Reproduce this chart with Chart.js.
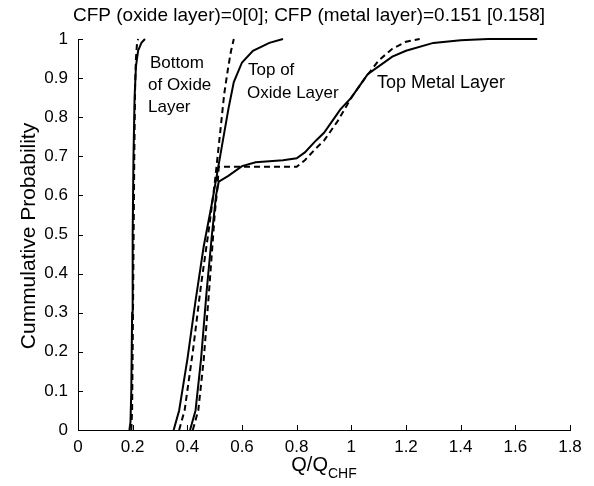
<!DOCTYPE html>
<html>
<head>
<meta charset="utf-8">
<script src="https://cdn.jsdelivr.net/npm/chart.js@4.4.0/dist/chart.umd.min.js"></script>
<style>
  html, body { margin: 0; padding: 0; background: #fff; }
  #wrap { width: 594px; height: 486px; }
</style>
</head>
<body>
<div id="wrap"><canvas id="cdf-chart" width="594" height="486"></canvas></div>
<script>
// Values: Q/QCHF (x) and cumulative probability (y)
const bottomOxideQ      = [0.188, 0.192, 0.195, 0.198, 0.200, 0.203, 0.207, 0.212, 0.220, 0.232, 0.245];
const bottomOxideP      = [0.00, 0.02, 0.10, 0.30, 0.50, 0.70, 0.85, 0.93, 0.97, 0.99, 1.00];
const bottomOxideDashQ  = [0.195, 0.198, 0.200, 0.203, 0.206, 0.209, 0.212, 0.216, 0.220];
const bottomOxideDashP  = [0.00, 0.05, 0.20, 0.45, 0.70, 0.88, 0.95, 0.99, 1.00];

const topOxideQ      = [0.35, 0.37, 0.40, 0.43, 0.46, 0.49, 0.51, 0.53, 0.55, 0.57, 0.60, 0.64, 0.70, 0.75];
const topOxideP      = [0.00, 0.05, 0.18, 0.33, 0.47, 0.58, 0.66, 0.74, 0.82, 0.89, 0.94, 0.97, 0.99, 1.00];
const topOxideDashQ  = [0.37, 0.39, 0.42, 0.45, 0.48, 0.50, 0.52, 0.535, 0.55, 0.56, 0.57];
const topOxideDashP  = [0.00, 0.05, 0.20, 0.37, 0.52, 0.63, 0.76, 0.86, 0.93, 0.97, 1.00];

const topMetalQ      = [0.41, 0.43, 0.45, 0.47, 0.49, 0.505, 0.515, 0.55, 0.60, 0.65, 0.75, 0.80, 0.83, 0.87, 0.90, 0.93, 0.96, 1.00, 1.03, 1.06, 1.10, 1.15, 1.20, 1.30, 1.40, 1.50, 1.68];
const topMetalP      = [0.00, 0.05, 0.18, 0.35, 0.50, 0.60, 0.635, 0.65, 0.675, 0.685, 0.69, 0.695, 0.71, 0.74, 0.76, 0.79, 0.82, 0.85, 0.88, 0.91, 0.93, 0.955, 0.97, 0.99, 0.997, 1.00, 1.00];
const topMetalDashQ  = [0.42, 0.44, 0.46, 0.48, 0.50, 0.51, 0.515, 0.60, 0.80, 0.83, 0.87, 0.90, 0.95, 1.00, 1.05, 1.10, 1.15, 1.20, 1.25];
const topMetalDashP  = [0.00, 0.05, 0.18, 0.36, 0.55, 0.62, 0.673, 0.673, 0.673, 0.69, 0.72, 0.74, 0.79, 0.85, 0.90, 0.945, 0.975, 0.993, 1.00];

const xTicks = [0, 0.2, 0.4, 0.6, 0.8, 1, 1.2, 1.4, 1.6, 1.8];
const yTicks = [0, 0.1, 0.2, 0.3, 0.4, 0.5, 0.6, 0.7, 0.8, 0.9, 1];

const titleText = 'CFP (oxide layer)=0[0]; CFP (metal layer)=0.151 [0.158]';
const yLabel = 'Cummulative Probability';

const FONT = '"Liberation Sans", Arial, Helvetica, sans-serif';

function toPoints(xs, ys) {
  return xs.map((x, i) => ({ x, y: ys[i] }));
}

// Matlab-style labels: 0, 0.2, 1, 1.2 ...
function tickLabel(value) {
  return String(Math.round(value * 10) / 10);
}

function curve(label, xs, ys, dashed) {
  return {
    label,
    data: toPoints(xs, ys),
    borderColor: '#000',
    borderWidth: 2,
    borderDash: dashed ? [6, 4] : [],
    pointRadius: 0,
    tension: 0,
    fill: false,
    clip: 4
  };
}

// Inward tick marks plus all free text (title, axis titles, annotations)
const decorations = {
  id: 'decorations',
  afterDraw(chart) {
    const { ctx, chartArea: area, scales } = chart;
    ctx.save();
    ctx.strokeStyle = '#000';
    ctx.lineWidth = 1;
    ctx.beginPath();
    xTicks.forEach(v => {
      const px = Math.round(scales.x.getPixelForValue(v)) + 0.5;
      ctx.moveTo(px, area.bottom);
      ctx.lineTo(px, area.bottom - 5);
    });
    yTicks.forEach(v => {
      const py = Math.round(scales.y.getPixelForValue(v)) + 0.5;
      ctx.moveTo(area.left, py);
      ctx.lineTo(area.left + 5, py);
    });
    ctx.stroke();

    ctx.fillStyle = '#000';
    ctx.textBaseline = 'middle';

    // title
    ctx.font = '19px ' + FONT;
    ctx.textAlign = 'center';
    ctx.fillText(titleText, 309, 16);

    // y axis title
    ctx.save();
    ctx.translate(29, 236);
    ctx.rotate(-Math.PI / 2);
    ctx.font = '21px ' + FONT;
    ctx.fillText(yLabel, 0, 0);
    ctx.restore();

    // x axis title with subscript
    ctx.textAlign = 'left';
    ctx.font = '20px ' + FONT;
    const main = 'Q/Q';
    const wMain = ctx.measureText(main).width;
    ctx.font = '14px ' + FONT;
    const wSub = ctx.measureText('CHF').width;
    const startX = (area.left + area.right) / 2 - (wMain + wSub) / 2;
    ctx.font = '20px ' + FONT;
    ctx.fillText(main, startX, 465);
    ctx.font = '14px ' + FONT;
    ctx.fillText('CHF', startX + wMain, 474);

    // curve annotations
    ctx.font = '17px ' + FONT;
    ctx.fillText('Bottom', 150, 63);
    ctx.fillText('of Oxide', 148, 85);
    ctx.fillText('Layer', 148, 107);
    ctx.fillText('Top of', 248, 70);
    ctx.fillText('Oxide Layer', 247, 93);
    ctx.font = '18px ' + FONT;
    ctx.fillText('Top Metal Layer', 377, 83);
    ctx.restore();
  }
};

new Chart(document.getElementById('cdf-chart').getContext('2d'), {
  type: 'line',
  data: {
    datasets: [
      curve('Bottom of Oxide Layer', bottomOxideQ, bottomOxideP, false),
      curve('Bottom of Oxide Layer (dashed)', bottomOxideDashQ, bottomOxideDashP, true),
      curve('Top of Oxide Layer', topOxideQ, topOxideP, false),
      curve('Top of Oxide Layer (dashed)', topOxideDashQ, topOxideDashP, true),
      curve('Top Metal Layer', topMetalQ, topMetalP, false),
      curve('Top Metal Layer (dashed)', topMetalDashQ, topMetalDashP, true)
    ]
  },
  options: {
    responsive: false,
    animation: false,
    layout: { padding: { top: 39, right: 24, left: 0, bottom: 0 } },
    plugins: {
      legend: { display: false },
      tooltip: { enabled: false },
      title: { display: false }
    },
    scales: {
      x: {
        type: 'linear',
        min: 0,
        max: 1.8,
        afterBuildTicks: scale => { scale.ticks = xTicks.map(value => ({ value })); },
        afterFit: scale => { scale.height = 56; },
        grid: { display: true, drawOnChartArea: false, drawTicks: false },
        border: { display: true, color: '#000', width: 1 },
        ticks: {
          color: '#000',
          padding: 7,
          maxRotation: 0,
          callback: tickLabel,
          font: { family: FONT, size: 17 }
        }
      },
      y: {
        min: 0,
        max: 1,
        afterBuildTicks: scale => { scale.ticks = yTicks.map(value => ({ value })); },
        afterFit: scale => { scale.width = 78; },
        grid: { display: true, drawOnChartArea: false, drawTicks: false },
        border: { display: true, color: '#000', width: 1 },
        ticks: {
          color: '#000',
          padding: 10,
          callback: tickLabel,
          font: { family: FONT, size: 17 }
        }
      }
    }
  },
  plugins: [decorations]
});
</script>
</body>
</html>
